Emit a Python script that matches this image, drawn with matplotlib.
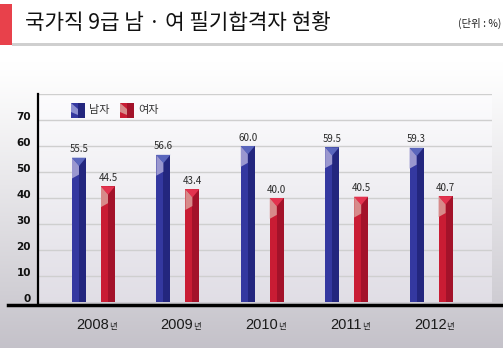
import numpy as np
import matplotlib
matplotlib.use("Agg")
import matplotlib.pyplot as plt
from matplotlib.patches import Rectangle, Polygon
import matplotlib.transforms as mtrans

plt.rcParams['font.family'] = ['Noto Sans CJK KR', 'DejaVu Sans']

# data
years = ["2008", "2009", "2010", "2011", "2012"]
male = [55.5, 56.6, 60.0, 59.5, 59.3]
female = [44.5, 43.4, 40.0, 40.5, 40.7]
yticks = [0, 10, 20, 30, 40, 50, 60, 70]

W, H = 503, 348
fig = plt.figure(figsize=(W / 100, H / 100), dpi=100)

# background gradient for whole figure
bg = fig.add_axes([0, 0, 1, 1], zorder=-10)
g = np.linspace(0, 1, 256)
g = np.clip((g - 0.18) / 0.82, 0, 1) ** 1.1
top = np.array([1.0, 1.0, 1.0])
bot = np.array([0.77, 0.76, 0.79])
img = top[None, :] * (1 - g[:, None]) + bot[None, :] * g[:, None]
bg.imshow(img[:, None, :], aspect='auto', extent=[0, 1, 0, 1], origin='upper')
bg.set_xlim(0, 1)
bg.set_ylim(0, 1)
bg.axis('off')

# title bar
bg.add_patch(Rectangle((0, 1 - 45 / H), 12 / W, 41 / H, color='#e8414b', lw=0))
bg.add_patch(Rectangle((12 / W, 1 - 46 / H), 1, 3 / H, color='#cfcfcf', lw=0))
fig.text(25 / W, 1 - 23 / H, "국가직 9급 남 · 여 필기합격자 현황", fontsize=15.3,
         va='center', ha='left', color='#111111')
fig.text(501 / W, 1 - 23 / H, "(단위 : %)", fontsize=7.5, va='center', ha='right',
         color='#222222')

# main axes
left, right, y0, y80 = 38, 492, 302, 94
ax = fig.add_axes([left / W, (H - y0) / H, (right - left) / W, (y0 - y80) / H])
ax.set_ylim(0, 80)
step = 84.4
ax.set_xlim(-55.5 / step, (right - left - 55.5) / step)

# plot area gradient
pg = np.linspace(0, 1, 256)
ptop = np.array([0.99, 0.99, 0.995])
pbot = np.array([0.88, 0.87, 0.90])
pimg = ptop[None, :] * (1 - pg[:, None]) + pbot[None, :] * pg[:, None]
ax.imshow(pimg[:, None, :], aspect='auto', extent=[*ax.get_xlim(), 0, 80],
          origin='upper', zorder=0)

for v in range(10, 90, 10):
    ax.axhline(v, color='#cfcfcf', lw=1, zorder=1)

x = np.arange(len(years))
off = 14.5 / step
bw = 14 / step


def prism(xc, h, light, dark, pale, cap):
    xl, xr = xc - bw / 2, xc + bw / 2
    ax.bar(xc - bw / 4, h, bw / 2, color=light, lw=0, zorder=3)
    ax.bar(xc + bw / 4, h, bw / 2, color=dark, lw=0, zorder=3)
    ax.add_patch(Polygon([(xl, h), (xc, h - 3), (xc, h - 6.5), (xl, h - 8)],
                         color=pale, lw=0, zorder=4))
    ax.add_patch(Polygon([(xl, h), (xr, h), (xc, h - 3.2)],
                         color=cap, lw=0, zorder=5))


for i in range(len(years)):
    prism(x[i] - off, male[i], '#3438a0', '#23267e', '#9a97cf', '#5a66bd')
    prism(x[i] + off, female[i], '#c91c34', '#a3122a', '#d78a8a', '#e3334f')
    ax.text(x[i] - off, male[i] + 1.3, f"{male[i]:.1f}", ha='center', va='bottom',
            fontsize=7, color='#2a2a2a', zorder=6)
    ax.text(x[i] + off, female[i] + 1.3, f"{female[i]:.1f}", ha='center', va='bottom',
            fontsize=7, color='#2a2a2a', zorder=6)
    ax.text(x[i] + 15.5 / step, -9, years[i], ha='right', va='center',
            fontsize=10.5, color='#1a1a1a', family='Liberation Sans')
    ax.text(x[i] + 15.5 / step, -9.3, "년", ha='left', va='center',
            fontsize=6, color='#1a1a1a')

# y tick labels
tr = mtrans.blended_transform_factory(ax.transAxes, ax.transData)
for v in yticks:
    ax.text(-7 / (right - left), v + 1, str(v), transform=tr,
            ha='right', va='center', fontsize=7.5, fontweight='bold', color='#111111',
            family='DejaVu Sans')

ax.set_xticks([])
ax.set_yticks([])
for s in ax.spines.values():
    s.set_visible(False)

# axis lines
ax.plot([0, 0], [-1.2, 80], color='black', lw=1.6, transform=tr, clip_on=False, zorder=7)
ax.plot([(8 - left) / (right - left), (W - left) / (right - left)], [-1.2, -1.2],
        color='black', lw=2.5, transform=tr, clip_on=False, zorder=7)


# legend
def icon(xp, yp, light, dark, pale):
    xa = (xp - left) / (right - left)
    ya = (y0 - yp) / (y0 - y80)
    w = 14 / (right - left)
    hh = 15 / (y0 - y80)
    ax.add_patch(Rectangle((xa, ya - hh), w / 2, hh, color=light, lw=0,
                           transform=ax.transAxes, zorder=6))
    ax.add_patch(Rectangle((xa + w / 2, ya - hh), w / 2, hh, color=dark, lw=0,
                           transform=ax.transAxes, zorder=6))
    ax.add_patch(Polygon([(xa, ya), (xa + w / 2, ya - hh * 0.4), (xa + w / 2, ya - hh * 0.8),
                          (xa, ya - hh * 0.6)], color=pale, lw=0,
                         transform=ax.transAxes, zorder=7))


icon(71, 103, '#3438a0', '#23267e', '#8b8ed0')
icon(120, 103, '#c91c34', '#a3122a', '#d78a8a')
ax.text((89 - left) / (right - left), (y0 - 110) / (y0 - y80), "남자", transform=ax.transAxes,
        fontsize=8, va='center', ha='left', color='#333333')
ax.text((138 - left) / (right - left), (y0 - 110) / (y0 - y80), "여자", transform=ax.transAxes,
        fontsize=8, va='center', ha='left', color='#333333')

fig.savefig("out.png", dpi=100)
